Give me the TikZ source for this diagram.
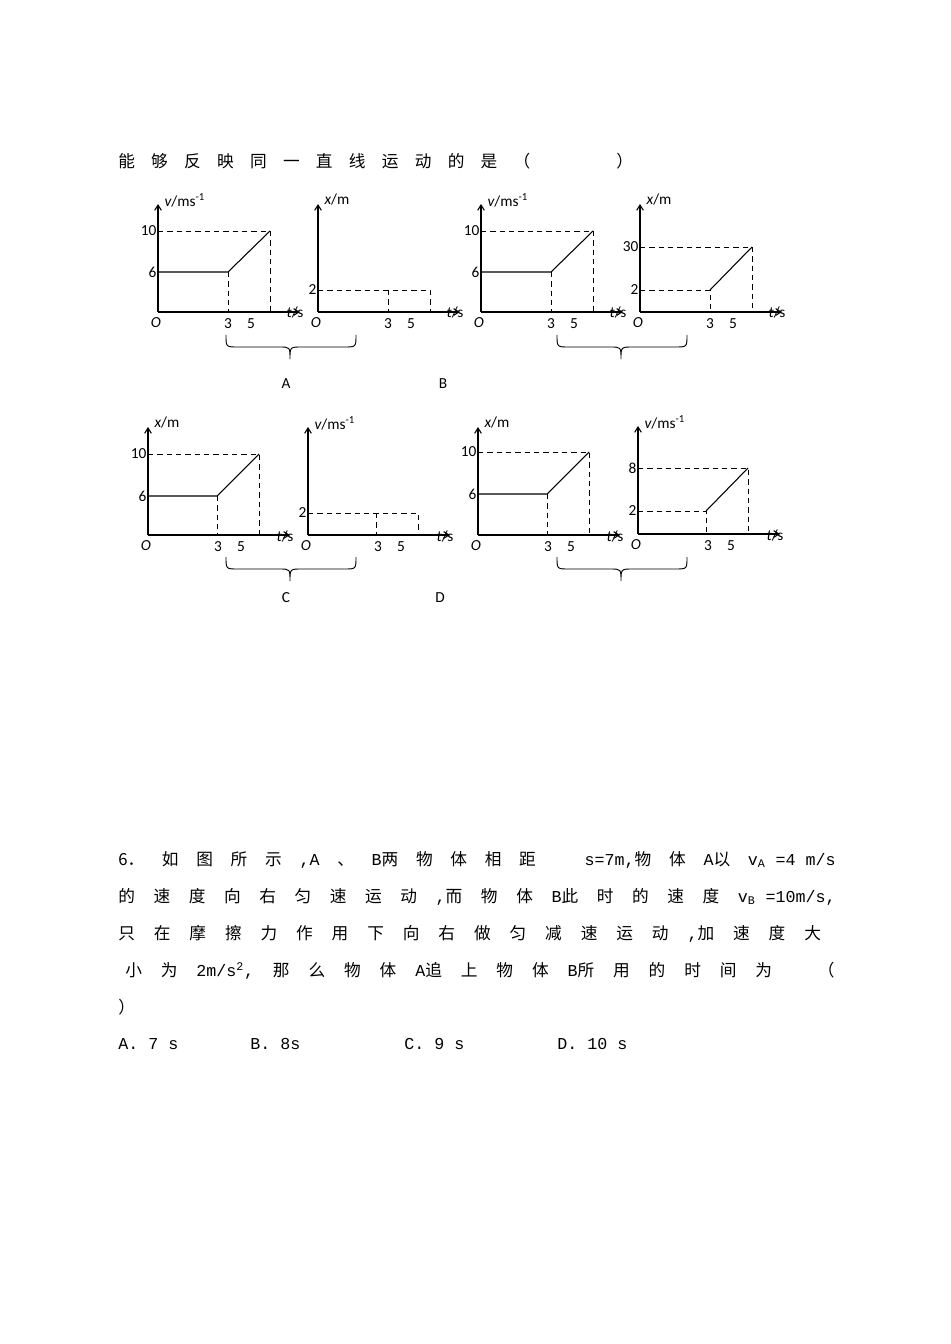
\documentclass[tikz,border=0pt]{standalone}
\usepackage{fontspec}
\setmainfont{Carlito}
\newfontfamily\cjk{Noto Sans CJK SC}
\newfontfamily\mono{Liberation Mono}
\usetikzlibrary{arrows.meta}
\tikzset{ax/.style={line width=0.8pt,-{Straight Barb[length=4pt,width=5pt]}},
 dsh/.style={dashed,line width=0.7pt,dash pattern=on 4pt off 3pt},
 ln/.style={line width=0.8pt},
 lb/.style={font=\fontsize{11.5}{13}\selectfont,inner sep=1pt},
 cj/.style={font=\cjk\fontsize{12.5}{14}\selectfont,anchor=west,inner sep=0pt},
 brace/.style={line width=0.7pt}}
\newcommand\mm[1]{\mbox{\mono #1}}
\newcommand\myaxes[3]{%
 \draw[ax] (#1,#2) -- (#1,#2-108);
 \draw[ax] (#1,#2) -- (#1+142,#2);
 \node[lb] at (#1-2,#2+11) {\itshape O};
 \node[lb] at (#1+137,#2+1) {\itshape t\upshape/s};
 \node[lb,anchor=west] at (#1+5,#2-112) {#3};
 \node[lb] at (#1+70,#2+12) {3};
 \node[lb] at (#1+93,#2+12) {5};}
\newcommand\mybrace[2]{%
 \draw[brace] (#1,#2) .. controls (#1,#2+12) .. (#1+12,#2+12) -- (#1+53,#2+12) .. controls (#1+64,#2+12) .. (#1+64,#2+24) .. controls (#1+64,#2+12) .. (#1+76,#2+12) -- (#1+118,#2+12) .. controls (#1+130,#2+12) .. (#1+130,#2);}
\begin{document}
\begin{tikzpicture}[x=0.75pt,y=-0.75pt]
\useasboundingbox (0,0) rectangle (950,1344);
\node[cj] at (118,161) {\makebox[386pt][s]{能 够 反 映 同 一 直 线 运 动 的 是 （ \hspace{40pt} ）}};
% row 1
\myaxes{158}{312}{\itshape v\upshape/ms\textsuperscript{-1}}
\node[lb,anchor=east] at (158,231) {10}; \node[lb,anchor=east] at (158,272) {6};
\draw[dsh] (158,231) -- (270,231) -- (270,312); \draw[dsh] (228,272) -- (228,312);
\draw[ln] (158,272) -- (228,272) -- (270,231);
\myaxes{318}{312}{\itshape x\upshape/m}
\node[lb,anchor=east] at (318,290) {2};
\draw[dsh] (318,290) -- (430,290) -- (430,312); \draw[dsh] (388,290) -- (388,312);
\mybrace{226}{335}
\node[lb] at (286,384) {A}; \node[lb] at (443,384) {B};
\myaxes{481}{312}{\itshape v\upshape/ms\textsuperscript{-1}}
\node[lb,anchor=east] at (481,231) {10}; \node[lb,anchor=east] at (481,272) {6};
\draw[dsh] (481,231) -- (593,231) -- (593,312); \draw[dsh] (551,272) -- (551,312);
\draw[ln] (481,272) -- (551,272) -- (593,231);
\myaxes{640}{312}{\itshape x\upshape/m}
\node[lb,anchor=east] at (640,247) {30}; \node[lb,anchor=east] at (640,290) {2};
\draw[dsh] (640,247) -- (752,247) -- (752,312); \draw[dsh] (640,290) -- (710,290) -- (710,312);
\draw[ln] (710,290) -- (752,247);
\mybrace{557}{335}
% row 2
\myaxes{148}{535}{\itshape x\upshape/m}
\node[lb,anchor=east] at (148,454) {10}; \node[lb,anchor=east] at (148,496) {6};
\draw[dsh] (148,454) -- (259,454) -- (259,535); \draw[dsh] (217,496) -- (217,535);
\draw[ln] (148,496) -- (217,496) -- (259,454);
\myaxes{308}{535}{\itshape v\upshape/ms\textsuperscript{-1}}
\node[lb,anchor=east] at (308,513) {2};
\draw[dsh] (308,513) -- (418,513) -- (418,535); \draw[dsh] (376,513) -- (376,535);
\mybrace{226}{557}
\node[lb] at (286,598) {C}; \node[lb] at (440,598) {D};
\myaxes{478}{535}{\itshape x\upshape/m}
\node[lb,anchor=east] at (478,452) {10}; \node[lb,anchor=east] at (478,494) {6};
\draw[dsh] (478,452) -- (589,452) -- (589,535); \draw[dsh] (547,494) -- (547,535);
\draw[ln] (478,494) -- (547,494) -- (589,452);
\myaxes{638}{534}{\itshape v\upshape/ms\textsuperscript{-1}}
\node[lb,anchor=east] at (638,468) {8}; \node[lb,anchor=east] at (638,511) {2};
\draw[dsh] (638,468) -- (748,468) -- (748,534); \draw[dsh] (638,511) -- (706,511) -- (706,534);
\draw[ln] (706,511) -- (748,468);
\mybrace{557}{557}
% question 6
\node[cj] at (118,860) {\makebox[538pt][s]{6． 如 图 所 示 \mm{,A} 、 \mm{B}两 物 体 相 距 \hspace{10pt} \mm{s=7m,}物 体 \mm{A}以 \mm{v\textsubscript{A}~=4~m/s}}};
\node[cj] at (118,897) {\makebox[538pt][s]{的 速 度 向 右 匀 速 运 动 \mm{,}而 物 体 \mm{B}此 时 的 速 度 \mm{v\textsubscript{B}~=10m/s,}}};
\node[cj] at (118,934) {\makebox[527pt][s]{只 在 摩 擦 力 作 用 下 向 右 做 匀 减 速 运 动 \mm{,}加 速 度 大}};
\node[cj] at (125,971) {\makebox[532pt][s]{小 为 \mm{2m/s\textsuperscript{2},} 那 么 物 体 \mm{A}追 上 物 体 \mm{B}所 用 的 时 间 为 \hspace{6pt} （}};
\node[cj] at (118,1007) {）};
\node[cj,font=\mono\fontsize{12.5}{14}\selectfont] at (118,1044) {A. 7 s};
\node[cj,font=\mono\fontsize{12.5}{14}\selectfont] at (250,1044) {B. 8s};
\node[cj,font=\mono\fontsize{12.5}{14}\selectfont] at (404,1044) {C. 9 s};
\node[cj,font=\mono\fontsize{12.5}{14}\selectfont] at (557,1044) {D. 10 s};
\end{tikzpicture}
\end{document}
